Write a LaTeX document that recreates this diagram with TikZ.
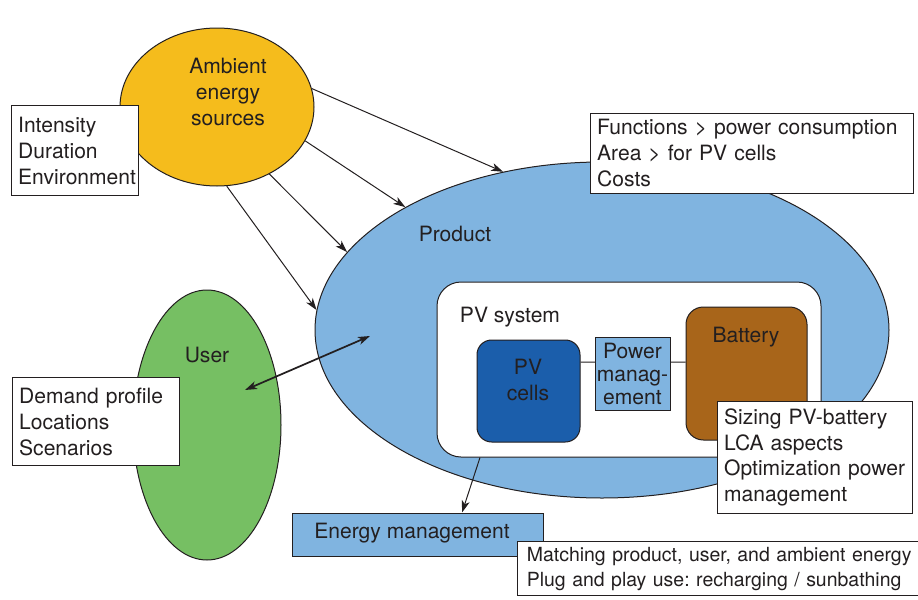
\documentclass[tikz,border=0pt]{standalone}
\usepackage{fontspec}
\setmainfont{TeX Gyre Heros}
\usetikzlibrary{shapes.geometric,arrows.meta}

\definecolor{ambientorange}{RGB}{245,188,28}
\definecolor{productblue}{RGB}{128,180,224}
\definecolor{usergreen}{RGB}{118,191,99}
\definecolor{cellblue}{RGB}{27,94,171}
\definecolor{batterybrown}{RGB}{168,101,26}
\definecolor{inkgrey}{RGB}{35,31,32}

\frenchspacing
\tikzset{every picture/.style={line width=0.75pt}}
\tikzset{
  blob/.style={draw=inkgrey, ellipse, inner sep=0pt},
  infobox/.style={draw=inkgrey, fill=white, anchor=north west, align=left, inner xsep=5pt, inner ysep=4pt},
  flowarrow/.style={draw=inkgrey, -{Stealth[length=9pt,width=6pt,inset=2.5pt]}},
  botharrow/.style={draw=inkgrey, line width=1.3pt, {Stealth[length=9pt,width=6pt,inset=2.5pt]}-{Stealth[length=9pt,width=6pt,inset=2.5pt]}}
}

\begin{document}
\begin{tikzpicture}[x=0.75pt,y=0.75pt,yscale=-1,xscale=1,font=\fontsize{15.8}{19.5}\selectfont,text=inkgrey]
	\useasboundingbox (0,0) rectangle (918,600);

	%Shape: Ellipse [id:ambient]
	\node[blob, fill=ambientorange, minimum width=145.5pt, minimum height=118.5pt] (ambient) at (217,107) {};
	\node[align=center] (ambienttxt) at (228,92) {Ambient\\energy\\sources};
	%Shape: Ellipse [id:product]
	\node[blob, fill=productblue, minimum width=430.5pt, minimum height=252pt] (product) at (602,330) {};
	\node (producttxt) at (455,234) {Product};
	%Shape: Ellipse [id:user]
	\node[blob, fill=usergreen, minimum width=111pt, minimum height=202.5pt] (user) at (207,425) {};
	\node (usertxt) at (207,355) {User};

	%Straight Lines [id:ambient to product]
	\draw[flowarrow] (ambient.11.7) -- (product.122.3);
	\draw[flowarrow] (ambient.-21.9) -- (product.148.4);
	\draw[flowarrow] (ambient.-52.2) -- (product.163.1);
	\draw[flowarrow] (ambient.-83.6) -- (product.176.5);

	%Shape: Rectangle [id:pvsystem]
	\node[draw=inkgrey, fill=white, rounded corners=18pt, minimum width=288pt, minimum height=131.25pt] (pvsys) at (629,369.5) {};
	\node (pvsystxt) at (510,317) {PV system};
	%Shape: Rectangle [id:pvcells]
	\node[draw=inkgrey, fill=cellblue, rounded corners=11pt, minimum width=77.25pt, minimum height=76.5pt] (pvcells) at (528.5,391) {};
	\node[align=center] (pvcellstxt) at (528,380) {PV\\cells};
	%Shape: Rectangle [id:battery]
	\node[draw=inkgrey, fill=batterybrown, rounded corners=13pt, minimum width=90.75pt, minimum height=99.75pt] (battery) at (746.5,373.5) {};
	\node (batterytxt) at (746,337) {Battery};
	%Straight Lines [id:cells to battery]
	\draw[inkgrey] ([yshift=-21.75pt]pvcells.east) -- ([yshift=-8.6pt]battery.west);
	%Shape: Rectangle [id:powermgmt]
	\node[draw=inkgrey, fill=productblue, align=center, inner sep=0pt, minimum width=56.25pt, minimum height=54.75pt, font=\fontsize{15.8}{17.25}\selectfont] (pmgmt) at (632.5,374) {Power\\manag-\\ement};

	%Shape: Rectangle [id:energy]
	\node[draw=inkgrey, fill=productblue, minimum width=188.25pt, minimum height=32.25pt] (energy) at (417.5,534.5) {};
	\node (energytxt) at (412,533) {Energy management};
	%Straight Lines [id:pv system to energy]
	\draw[flowarrow] ([xshift=-111.75pt]pvsys.south) -- ([xshift=33.4pt]energy.north);

	%Straight Lines [id:user product]
	\coordinate (userend) at (245,390);
	\coordinate (productend) at (370,336);
	\draw[botharrow] (userend) -- (productend);

	% Text Boxes
	\node[infobox, text width=85pt, minimum height=67.5pt] (ambientbox) at (11,105) {Intensity\\Duration\\Environment};
	\node[infobox, text width=232pt, minimum height=60pt] (productbox) at (590,113) {Functions > power consumption\\Area > for PV cells\\Costs};
	\node[infobox, text width=115pt, minimum height=66pt] (userbox) at (12,377) {Demand profile\\Locations\\Scenarios};
	\node[infobox, text width=136pt, minimum height=84pt, font=\fontsize{15.8}{19.2}\selectfont] (pvbox) at (717,401) {Sizing PV-battery\\LCA aspects\\Optimization power\\management};
	\node[infobox, text width=320pt, inner xsep=7pt, inner ysep=4pt, font=\fontsize{14.6}{18.8}\selectfont] (energybox) at (517,541) {Matching product, user, and ambient energy\\Plug and play use: recharging / sunbathing\\[2pt]};

\end{tikzpicture}
\end{document}
